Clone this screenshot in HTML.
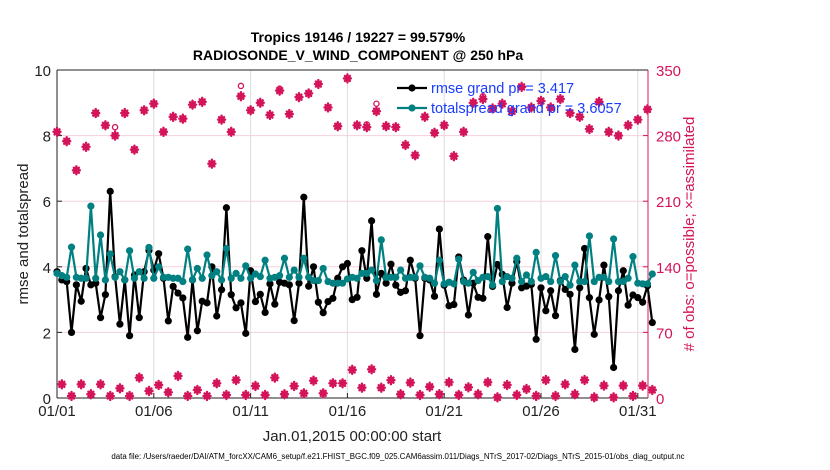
<!DOCTYPE html>
<html><head><meta charset="utf-8">
<style>
html,body{margin:0;padding:0;background:#fff;}
svg{display:block;font-family:"Liberation Sans",Arial,sans-serif;}
</style></head>
<body>
<svg id="chart" width="830" height="470" viewBox="0 0 830 470" xmlns="http://www.w3.org/2000/svg">
<rect x="0" y="0" width="830" height="470" fill="#fff"/>
<g id="grid"></g>
<g id="axes"></g>
<g id="obs"></g>
<g id="series"></g>
<g id="legend"></g>
<text x="358" y="42" text-anchor="middle" font-size="14" font-weight="bold" fill="#000">Tropics 19146 / 19227 = 99.579%</text>
<text x="358" y="60" text-anchor="middle" font-size="14" font-weight="bold" fill="#000">RADIOSONDE_V_WIND_COMPONENT @ 250 hPa</text>
<text x="352" y="441" text-anchor="middle" font-size="15" fill="#222">Jan.01,2015 00:00:00 start</text>
<text transform="translate(28,234) rotate(-90)" text-anchor="middle" font-size="15" fill="#222">rmse and totalspread</text>
<text transform="translate(694,234) rotate(-90)" text-anchor="middle" font-size="15" fill="#d4145a">&#35; of obs: o=possible; ×=assimilated</text>
<text x="398" y="459" text-anchor="middle" font-size="7.9" fill="#000">data file: /Users/raeder/DAI/ATM_forcXX/CAM6_setup/f.e21.FHIST_BGC.f09_025.CAM6assim.011/Diags_NTrS_2017-02/Diags_NTrS_2015-01/obs_diag_output.nc</text>
</svg>
<script>
const xTickLabels = ["01/01","01/06","01/11","01/16","01/21","01/26","01/31"];
const xTickDays = [0,5,10,15,20,25,30];
const yLeftTicks = [0,2,4,6,8,10];
const yRightTicks = [0,70,140,210,280,350];
const rmse = [3.85,3.6,3.55,2.0,3.45,2.95,3.95,3.45,3.5,2.45,3.15,6.3,3.7,2.25,3.6,1.9,3.75,2.45,3.85,4.5,3.9,4.4,3.65,2.35,3.4,3.2,3.05,1.85,3.6,2.05,2.95,2.9,
4.0,2.5,3.3,5.8,3.15,2.75,2.9,1.97,3.88,2.94,3.16,2.61,3.48,2.86,3.53,3.5,3.45,2.36,3.5,6.12,3.41,4.0,2.92,2.6,2.94,3.04,3.65,4.0,4.1,3.0,3.07,
4.49,3.65,5.4,3.16,3.8,3.5,4.08,3.44,3.22,3.27,4.2,3.65,1.9,3.65,3.6,3.1,5.15,3.44,2.81,2.85,4.3,3.6,2.53,3.5,3.07,3.04,4.92,3.4,4.07,3.77,2.76,
3.5,4.16,3.36,3.41,3.46,1.79,3.36,2.66,3.27,2.51,3.58,3.31,3.16,1.48,3.36,4.56,3.06,1.94,2.99,4.05,3.09,0.93,3.27,3.88,2.83,3.14,3.06,2.92,3.42,2.3];
const spread = [3.8,3.73,3.68,4.6,3.68,3.65,3.65,5.85,3.65,4.97,3.6,4.39,3.68,3.85,3.6,4.49,3.65,3.85,3.65,4.59,3.65,4.0,3.68,3.68,3.65,3.65,3.55,4.54,3.6,3.95,3.65,4.36,
3.73,3.85,3.6,4.56,3.65,3.8,3.65,4.03,3.65,3.78,3.7,4.2,3.65,3.68,3.73,4.26,3.68,3.9,3.68,4.26,3.68,3.58,3.58,3.95,3.55,3.5,3.5,3.5,3.63,3.68,3.65,
3.8,3.8,3.9,3.58,4.82,3.68,3.68,3.68,3.9,3.65,3.68,3.68,4.03,3.68,3.65,3.5,4.2,3.48,3.53,3.48,4.23,3.55,3.5,3.83,3.58,3.68,3.7,3.44,5.78,3.55,3.7,
3.65,4.26,3.55,3.75,3.55,4.44,3.65,3.7,3.55,4.34,3.55,3.7,3.44,4.05,3.55,3.55,4.94,3.55,3.68,3.68,3.55,4.85,3.55,3.55,3.65,4.31,3.5,3.48,3.48,3.78];
const obsAssim = [284,14.6,274,2.2,243,14.6,268,4,304,14.6,291,2.2,280,10.3,304,2.2,265,21.7,307,7.5,314,13.9,284,6.1,300,23.5,298,2.2,313,8.6,316,2.2,
250,15.7,297,3.2,284,19.2,322,3.2,307,12.8,315,3.2,302,21.7,328,4,303,12.8,321,5,325,18.5,335,5,310,15.7,290,15.7,341,30,291,
11,289,30.6,306,11,290,19,289,4,270,16.4,259,3.2,300,12,283,4,291,16.7,258,3.2,284,11.4,315,4,319,16.7,309,0.7,314,13.9,
306,3.2,332,9.6,310,2.2,317,19.2,310,2.2,319,14.6,304,4,300,19.2,287,0.7,316,13.2,284,0.7,280,13.2,291,2.2,297,13.2,308,8.6];
const obsPossible = obsAssim.map((v,i)=>v);
obsPossible[12]=289; obsPossible[38]=333; obsPossible[66]=314; obsPossible[64]=292; obsPossible[46]=330; obsPossible[88]=322;

const NS="http://www.w3.org/2000/svg";
const X0=57, X1=648, YT=70, YB=398, PX_PER_STEP=4.84;
function xIdx(i){return X0+PX_PER_STEP*i;}
function xDay(d){return X0+PX_PER_STEP*4*d;}
function yL(v){return YB-(v/10)*(YB-YT);}
function yR(v){return YB-(v/350)*(YB-YT);}
function mk(tag,attrs,parent){const e=document.createElementNS(NS,tag);for(const k in attrs)e.setAttribute(k,attrs[k]);parent.appendChild(e);return e;}

const grid=document.getElementById('grid');
const axes=document.getElementById('axes');
xTickDays.forEach((d,k)=>{
  const l=mk('line',{x1:xDay(d),x2:xDay(d),y1:YT,y2:YB,stroke:'#dcdcdc','stroke-width':1},grid);
  
  
  const t=mk('text',{x:xDay(d),y:YB+18,'text-anchor':'middle','font-size':15,fill:'#222'},axes);
  t.textContent=xTickLabels[k];
  
  
  mk('line',{x1:xDay(d),x2:xDay(d),y1:YB,y2:YB-5,stroke:'#222'},axes);
});
yRightTicks.forEach(v=>{
  if(v>0&&v<350){const l=mk('line',{x1:X0,x2:X1,y1:yR(v),y2:yR(v),stroke:'#f6cfdd','stroke-width':1},grid);
  
  }
  const t=mk('text',{x:X1+8,y:yR(v)+6,'font-size':15,fill:'#d4145a'},axes);
  t.textContent=v;
  
  
  mk('line',{x1:X1,x2:X1-5,y1:yR(v),y2:yR(v),stroke:'#d4145a'},axes);
});
yLeftTicks.forEach(v=>{
  const t=mk('text',{x:X0-6,y:yL(v)+6,'text-anchor':'end','font-size':15,fill:'#222'},axes);
  t.textContent=v;
  
  
  mk('line',{x1:X0,x2:X0+5,y1:yL(v),y2:yL(v),stroke:'#222'},axes);
});
mk('line',{x1:X0,x2:X1,y1:YT,y2:YT,stroke:'#222'},axes);
mk('line',{x1:X0,x2:X1,y1:YB,y2:YB,stroke:'#222'},axes);
mk('line',{x1:X0,x2:X0,y1:YT,y2:YB,stroke:'#222'},axes);
mk('line',{x1:X1,x2:X1,y1:YT,y2:YB,stroke:'#d4145a'},axes);

const obsG=document.getElementById('obs');
function star(cx,cy,parent){
  const g=mk('g',{stroke:'#d4145a','stroke-width':2.4,'stroke-linecap':'round'},parent);
  mk('line',{x1:cx-3.5,x2:cx+3.5,y1:cy,y2:cy},g);
  mk('line',{x1:cx,x2:cx,y1:cy-4,y2:cy+4},g);
  mk('line',{x1:cx-2.5,x2:cx+2.5,y1:cy-2.5,y2:cy+2.5},g);
  mk('line',{x1:cx-2.5,x2:cx+2.5,y1:cy+2.5,y2:cy-2.5},g);
  return g;
}
obsPossible.forEach((v,i)=>{
  const c=mk('circle',{cx:xIdx(i),cy:yR(v),r:2.6,fill:'none',stroke:'#d4145a','stroke-width':1.3},obsG);
  
  
});
obsAssim.forEach((v,i)=>{
  const g=star(xIdx(i),yR(v),obsG);
  
  
});

const ser=document.getElementById('series');
function drawSeries(vals,color,name){
  const pts=vals.map((v,i)=>xIdx(i).toFixed(1)+','+yL(v).toFixed(1)).join(' ');
  const pl=mk('polyline',{points:pts,fill:'none',stroke:color,'stroke-width':2.2,'stroke-linejoin':'round'},ser);
  
  
  vals.forEach((v,i)=>{
    const c=mk('circle',{cx:xIdx(i),cy:yL(v),r:3.6,fill:color},ser);
    
    
  });
}
drawSeries(rmse,'#000','rmse');
drawSeries(spread,'#008080','totalspread');

const lg=document.getElementById('legend');
[['rmse grand pr = 3.417','#000',88,'legend-entry-rmse'],['totalspread grand pr = 3.6057','#008080',108,'legend-entry-totalspread']].forEach(e=>{
  const g=mk('g',{},lg);
  
  
  mk('line',{x1:397,x2:427,y1:e[2],y2:e[2],stroke:e[1],'stroke-width':2.2},g);
  mk('circle',{cx:412,cy:e[2],r:3.6,fill:e[1]},g);
  const t=mk('text',{x:431,y:e[2]+5,'font-size':14.5,fill:'#1a3cff'},g);
  t.textContent=e[0];
});
</script>
</body></html>
